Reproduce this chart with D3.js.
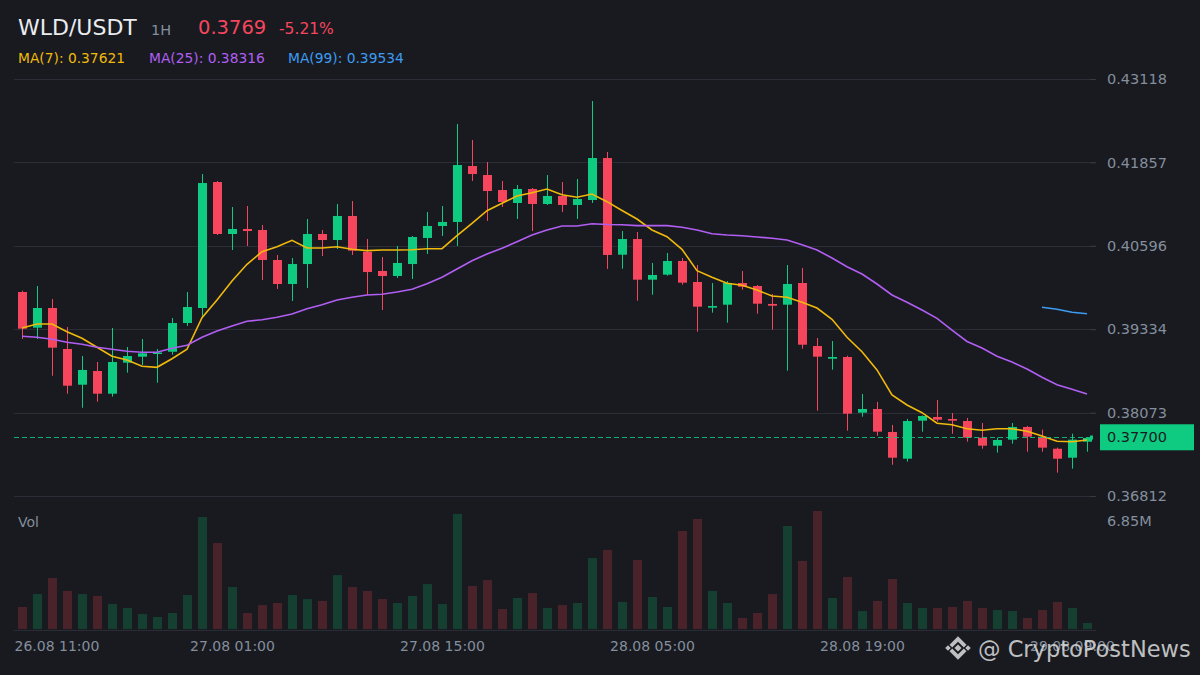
<!DOCTYPE html>
<html>
<head>
<meta charset="utf-8">
<script src="https://cdn.jsdelivr.net/npm/d3@7"></script>
<style>
  html, body { margin: 0; padding: 0; background: #181a20; }
  svg { display: block; font-family: "DejaVu Sans", sans-serif; }
</style>
</head>
<body>
<div id="chart"></div>
<script>
// Header texts
const pair = "WLD/USDT"
const interval = "1H"
const lastPrice = "0.3769"
const change = "-5.21%"
const maLegend = ["MA(7): 0.37621", "MA(25): 0.38316", "MA(99): 0.39534"]

// Hourly candles, 26.08 11:00 -> 29.08 10:00
const startTime = new Date(2023, 7, 26, 11)
const endTime = new Date(2023, 7, 29, 10)

const opens = [0.39897, 0.39357, 0.39655, 0.39035, 0.38495, 0.38702, 0.38359, 0.38828, 0.38919, 0.38959,
  0.38994, 0.39428, 0.39655, 0.41560, 0.40774, 0.40850, 0.40835, 0.40381, 0.40018, 0.40320,
  0.40774, 0.40683, 0.41046, 0.40506, 0.40215, 0.40139, 0.40320, 0.40714, 0.40895, 0.40956,
  0.41802, 0.41666, 0.41439, 0.41243, 0.41455, 0.41228, 0.41349, 0.41213, 0.41288, 0.41923,
  0.40461, 0.40698, 0.40083, 0.40159, 0.40366, 0.40048, 0.39660, 0.39705, 0.40033, 0.39988,
  0.39716, 0.39705, 0.40033, 0.39080, 0.38888, 0.38914, 0.38072, 0.38128, 0.37780, 0.37376,
  0.37951, 0.38007, 0.37977, 0.37946, 0.37694, 0.37573, 0.37664, 0.37856, 0.37709, 0.37527,
  0.37391, 0.37633]
const highs = [0.39917, 0.39988, 0.39791, 0.39368, 0.38929, 0.38838, 0.39353, 0.39065, 0.39186, 0.39035,
  0.39504, 0.39897, 0.41681, 0.41575, 0.41182, 0.41197, 0.40910, 0.40457, 0.40411, 0.41001,
  0.40835, 0.41228, 0.41273, 0.40698, 0.40426, 0.40593, 0.40744, 0.41107, 0.41197, 0.42438,
  0.42196, 0.41863, 0.41576, 0.41515, 0.41470, 0.41666, 0.41560, 0.41606, 0.42785, 0.42014,
  0.40819, 0.40804, 0.40336, 0.40487, 0.40411, 0.40305, 0.40033, 0.40063, 0.40215, 0.40003,
  0.39867, 0.40305, 0.40260, 0.39201, 0.39156, 0.38934, 0.38355, 0.38234, 0.37886, 0.37977,
  0.38030, 0.38264, 0.38067, 0.37992, 0.37916, 0.37694, 0.37916, 0.37871, 0.37815, 0.37543,
  0.37754, 0.37700]
const lows = [0.39186, 0.39186, 0.38631, 0.38359, 0.38147, 0.38238, 0.38314, 0.38677, 0.38793, 0.38525,
  0.38949, 0.39383, 0.39504, 0.40759, 0.40532, 0.40593, 0.40078, 0.39942, 0.39761, 0.39957,
  0.40441, 0.40547, 0.40457, 0.39852, 0.39625, 0.40109, 0.40094, 0.40472, 0.40744, 0.40593,
  0.41576, 0.40971, 0.41182, 0.41001, 0.40819, 0.41213, 0.41107, 0.41001, 0.41243, 0.40245,
  0.40249, 0.39765, 0.39856, 0.40144, 0.40007, 0.39297, 0.39584, 0.39433, 0.39932, 0.39569,
  0.39327, 0.38707, 0.39040, 0.38102, 0.38722, 0.37800, 0.38011, 0.37724, 0.37285, 0.37331,
  0.37785, 0.37936, 0.37754, 0.37633, 0.37527, 0.37467, 0.37603, 0.37482, 0.37482, 0.37165,
  0.37225, 0.37482]
const closes = [0.39342, 0.39655, 0.39055, 0.38480, 0.38718, 0.38359, 0.38838, 0.38929, 0.38970, 0.38982,
  0.39428, 0.39670, 0.41545, 0.40774, 0.40850, 0.40819, 0.40381, 0.40018, 0.40320, 0.40774,
  0.40683, 0.41046, 0.40522, 0.40199, 0.40139, 0.40336, 0.40729, 0.40895, 0.40956, 0.41817,
  0.41681, 0.41424, 0.41258, 0.41455, 0.41228, 0.41349, 0.41213, 0.41303, 0.41923, 0.40457,
  0.40698, 0.40083, 0.40154, 0.40366, 0.40038, 0.39675, 0.39685, 0.40033, 0.39977, 0.39720,
  0.39690, 0.40018, 0.39100, 0.38919, 0.38914, 0.38057, 0.38128, 0.37785, 0.37391, 0.37946,
  0.38022, 0.37966, 0.37951, 0.37694, 0.37573, 0.37659, 0.37856, 0.37709, 0.37543, 0.37376,
  0.37664, 0.37690]

// Volume in millions
const volumes = [1.28, 2.03, 2.96, 2.21, 2.03, 1.92, 1.45, 1.22, 0.87, 0.70,
  0.93, 1.97, 6.50, 4.99, 2.44, 0.93, 1.39, 1.51, 1.97, 1.74,
  1.63, 3.13, 2.44, 2.21, 1.74, 1.51, 1.92, 2.61, 1.45, 6.68,
  2.50, 2.84, 1.16, 1.80, 2.09, 1.22, 1.39, 1.51, 4.12, 4.59,
  1.57, 4.01, 1.86, 1.28, 5.69, 6.39, 2.21, 1.51, 0.64, 0.93,
  2.03, 5.98, 3.95, 6.85, 1.80, 3.02, 1.04, 1.63, 2.90, 1.51,
  1.22, 1.22, 1.28, 1.63, 1.22, 1.10, 1.04, 0.64, 1.10, 1.57,
  1.22, 0.35]

// Moving averages as drawn on the chart
const ma7 = [0.39353, 0.39413, 0.39413, 0.39297, 0.39197, 0.39061, 0.38925, 0.38869, 0.38773, 0.38758,
  0.38888, 0.39031, 0.39508, 0.39776, 0.40063, 0.40316, 0.40506, 0.40582, 0.40679, 0.40562,
  0.40562, 0.40582, 0.40543, 0.40522, 0.40532, 0.40532, 0.40537, 0.40552, 0.40552, 0.40748,
  0.40936, 0.41126, 0.41238, 0.41349, 0.41399, 0.41455, 0.41368, 0.41329, 0.41379, 0.41263,
  0.41130, 0.41001, 0.40835, 0.40733, 0.40543, 0.40219, 0.40119, 0.40029, 0.39998, 0.39927,
  0.39837, 0.39817, 0.39741, 0.39655, 0.39484, 0.39212, 0.38994, 0.38718, 0.38339, 0.38188,
  0.38072, 0.37912, 0.37890, 0.37830, 0.37806, 0.37830, 0.37830, 0.37791, 0.37719, 0.37639,
  0.37633, 0.37659]
const ma25 = [0.39227, 0.39212, 0.39182, 0.39136, 0.39106, 0.39061, 0.39031, 0.39000, 0.38985, 0.38985,
  0.39046, 0.39091, 0.39212, 0.39307, 0.39383, 0.39454, 0.39478, 0.39514, 0.39564, 0.39645,
  0.39705, 0.39776, 0.39817, 0.39852, 0.39862, 0.39897, 0.39938, 0.40023, 0.40119, 0.40245,
  0.40370, 0.40472, 0.40558, 0.40658, 0.40759, 0.40835, 0.40895, 0.40895, 0.40930, 0.40918,
  0.40915, 0.40900, 0.40900, 0.40900, 0.40875, 0.40835, 0.40779, 0.40759, 0.40748, 0.40729,
  0.40709, 0.40683, 0.40612, 0.40532, 0.40411, 0.40280, 0.40169, 0.40018, 0.39852, 0.39741,
  0.39625, 0.39499, 0.39322, 0.39149, 0.39050, 0.38925, 0.38839, 0.38733, 0.38607, 0.38495,
  0.38426, 0.38355]
// MA(99) only appears on the last four candles
const ma99Start = 68
const ma99 = [0.39666, 0.39635, 0.39590, 0.39569]

const priceTicks = [0.43118, 0.41857, 0.40596, 0.39334, 0.38073, 0.36812]
const currentPrice = 0.37700
const volMax = 6.85

const width = 1200
const height = 675
const green = "#0ecb81"
const red = "#f6465d"
const gridColour = "#2a2d35"
const textGrey = "#848e9c"

const times = d3.timeHour.range(startTime, d3.timeHour.offset(endTime, 1))

const x = d3.scaleTime()
  .domain([startTime, endTime])
  .range([22, 1087])

const y = d3.scaleLinear()
  .domain([priceTicks[priceTicks.length - 1], priceTicks[0]])
  .range([496, 79])

const vy = d3.scaleLinear()
  .domain([0, volMax])
  .range([629, 511])

const svg = d3.select("#chart")
  .append("svg")
  .attr("width", width)
  .attr("height", height)

svg.append("rect")
  .attr("width", width)
  .attr("height", height)
  .attr("fill", "#181a20")

// Horizontal grid lines at each price label, plus the volume baseline
svg.append("g")
  .selectAll("line")
  .data(priceTicks)
  .join("line")
  .attr("x1", 14)
  .attr("x2", 1096)
  .attr("y1", d => Math.round(y(d)) + 0.5)
  .attr("y2", d => Math.round(y(d)) + 0.5)
  .attr("stroke", gridColour)

svg.append("line")
  .attr("x1", 14)
  .attr("x2", 1096)
  .attr("y1", 630.5)
  .attr("y2", 630.5)
  .attr("stroke", gridColour)

const candles = times.map((t, i) => ({
  t: t, o: opens[i], h: highs[i], l: lows[i], c: closes[i], v: volumes[i], up: closes[i] >= opens[i]
}))

// Volume bars
svg.append("g")
  .selectAll("rect")
  .data(candles)
  .join("rect")
  .attr("x", d => Math.round(x(d.t)) - 4)
  .attr("width", 9)
  .attr("y", d => vy(d.v))
  .attr("height", d => vy(0) - vy(d.v))
  .attr("fill", d => d.up ? "#143f31" : "#4a222a")

// Candles: wick then body
const candleG = svg.append("g")
candleG.selectAll("line")
  .data(candles)
  .join("line")
  .attr("x1", d => Math.round(x(d.t)) + 0.5)
  .attr("x2", d => Math.round(x(d.t)) + 0.5)
  .attr("y1", d => y(d.h))
  .attr("y2", d => y(d.l))
  .attr("stroke", d => d.up ? green : red)
  .attr("stroke-width", 1)

candleG.selectAll("rect")
  .data(candles)
  .join("rect")
  .attr("x", d => Math.round(x(d.t)) - 4)
  .attr("width", 9)
  .attr("y", d => y(Math.max(d.o, d.c)))
  .attr("height", d => Math.max(1.5, Math.abs(y(d.o) - y(d.c))))
  .attr("fill", d => d.up ? green : red)

// Moving average lines
const maLine = d3.line()
  .x(d => x(d[0]))
  .y(d => y(d[1]))

const maSeries = [
  {colour: "#f0b90b", pts: times.map((t, i) => [t, ma7[i]])},
  {colour: "#b15ef2", pts: times.map((t, i) => [t, ma25[i]])},
  {colour: "#3d9bf0", pts: ma99.map((v, i) => [times[ma99Start + i], v])}
]
maSeries.forEach(s => {
  svg.append("path")
    .datum(s.pts)
    .attr("d", maLine)
    .attr("fill", "none")
    .attr("stroke", s.colour)
    .attr("stroke-width", 1.6)
})

// Current price dashed line
const py = Math.round(y(currentPrice)) + 0.5
svg.append("line")
  .attr("x1", 14)
  .attr("x2", 1092)
  .attr("y1", py)
  .attr("y2", py)
  .attr("stroke", green)
  .attr("stroke-width", 1)
  .attr("stroke-dasharray", "5,3")
  .attr("opacity", 0.85)

svg.append("rect")
  .attr("x", 1090)
  .attr("y", py - 2)
  .attr("width", 3)
  .attr("height", 4)
  .attr("fill", green)

// Right price axis
const yAxis = svg.append("g")
  .attr("transform", "translate(1090,0)")
  .call(d3.axisRight(y)
    .tickValues(priceTicks)
    .tickSize(6)
    .tickPadding(11)
    .tickFormat(d3.format(".5f")))
yAxis.select(".domain").remove()
yAxis.selectAll("line").attr("stroke", "#363a42")
yAxis.selectAll("text")
  .attr("fill", textGrey)
  .style("font-size", "14.5px")
  .style("font-family", "DejaVu Sans")

// Current price tag
svg.append("rect")
  .attr("x", 1100)
  .attr("y", y(currentPrice) - 13)
  .attr("width", 94)
  .attr("height", 26)
  .attr("fill", green)
svg.append("text")
  .attr("x", 1107)
  .attr("y", y(currentPrice))
  .attr("dy", "0.35em")
  .attr("fill", "#181a20")
  .style("font-size", "14.5px")
  .text(d3.format(".5f")(currentPrice))

// Volume labels
svg.append("text")
  .attr("x", 18)
  .attr("y", 527)
  .attr("fill", textGrey)
  .style("font-size", "14px")
  .text("Vol")
svg.append("text")
  .attr("x", 1107)
  .attr("y", 526)
  .attr("fill", textGrey)
  .style("font-size", "14.5px")
  .text(volMax + "M")

// Bottom time axis, one label every 14 hours
const xAxis = svg.append("g")
  .attr("transform", "translate(0,630)")
  .call(d3.axisBottom(x)
    .tickValues(times.filter((d, i) => !(i % 14)))
    .tickSize(0)
    .tickPadding(11)
    .tickFormat(d3.timeFormat("%d.%m %H:%M")))
xAxis.select(".domain").remove()
xAxis.selectAll("text")
  .attr("fill", textGrey)
  .style("font-size", "14px")
  .style("font-family", "DejaVu Sans")
// first label is pushed inside the left edge
xAxis.select(".tick text")
  .attr("text-anchor", "start")
  .attr("x", -8)

// Header
const header = svg.append("g")
header.append("text").attr("x", 18).attr("y", 35)
  .attr("fill", "#eaecef").style("font-size", "22px").text(pair)
header.append("text").attr("x", 151).attr("y", 35)
  .attr("fill", textGrey).style("font-size", "14.5px").text(interval)
header.append("text").attr("x", 198).attr("y", 34)
  .attr("fill", red).style("font-size", "19.5px").text(lastPrice)
header.append("text").attr("x", 279).attr("y", 34)
  .attr("fill", red).style("font-size", "15.5px").text(change)

const legendX = [18, 149, 288]
maSeries.forEach((s, i) => {
  header.append("text")
    .attr("x", legendX[i])
    .attr("y", 63)
    .attr("fill", s.colour)
    .style("font-size", "13.8px")
    .text(maLegend[i])
})

// Watermark, drawn over the last time label as in the source
const mark = svg.append("g").attr("opacity", 0.85)
const logo = mark.append("g")
  .attr("transform", "translate(958,648)")
  .attr("fill", "#dcdcdc")
const diamond = (cx, cy, r) => `M${cx},${cy - r}L${cx + r},${cy}L${cx},${cy + r}L${cx - r},${cy}Z`
logo.append("path").attr("d", diamond(0, 0, 3.6))
logo.append("path").attr("d", diamond(-10, 0, 2.8))
logo.append("path").attr("d", diamond(10, 0, 2.8))
logo.append("path").attr("d", "M-8.5,-3.2L0,-11.7L8.5,-3.2L5.8,-0.5L0,-6.3L-5.8,-0.5Z")
logo.append("path").attr("d", "M-8.5,3.2L0,11.7L8.5,3.2L5.8,0.5L0,6.3L-5.8,0.5Z")
mark.append("text")
  .attr("x", 978)
  .attr("y", 657)
  .attr("fill", "#dcdcdc")
  .style("font-size", "22.5px")
  .text("@ CryptoPostNews")
</script>
</body>
</html>
